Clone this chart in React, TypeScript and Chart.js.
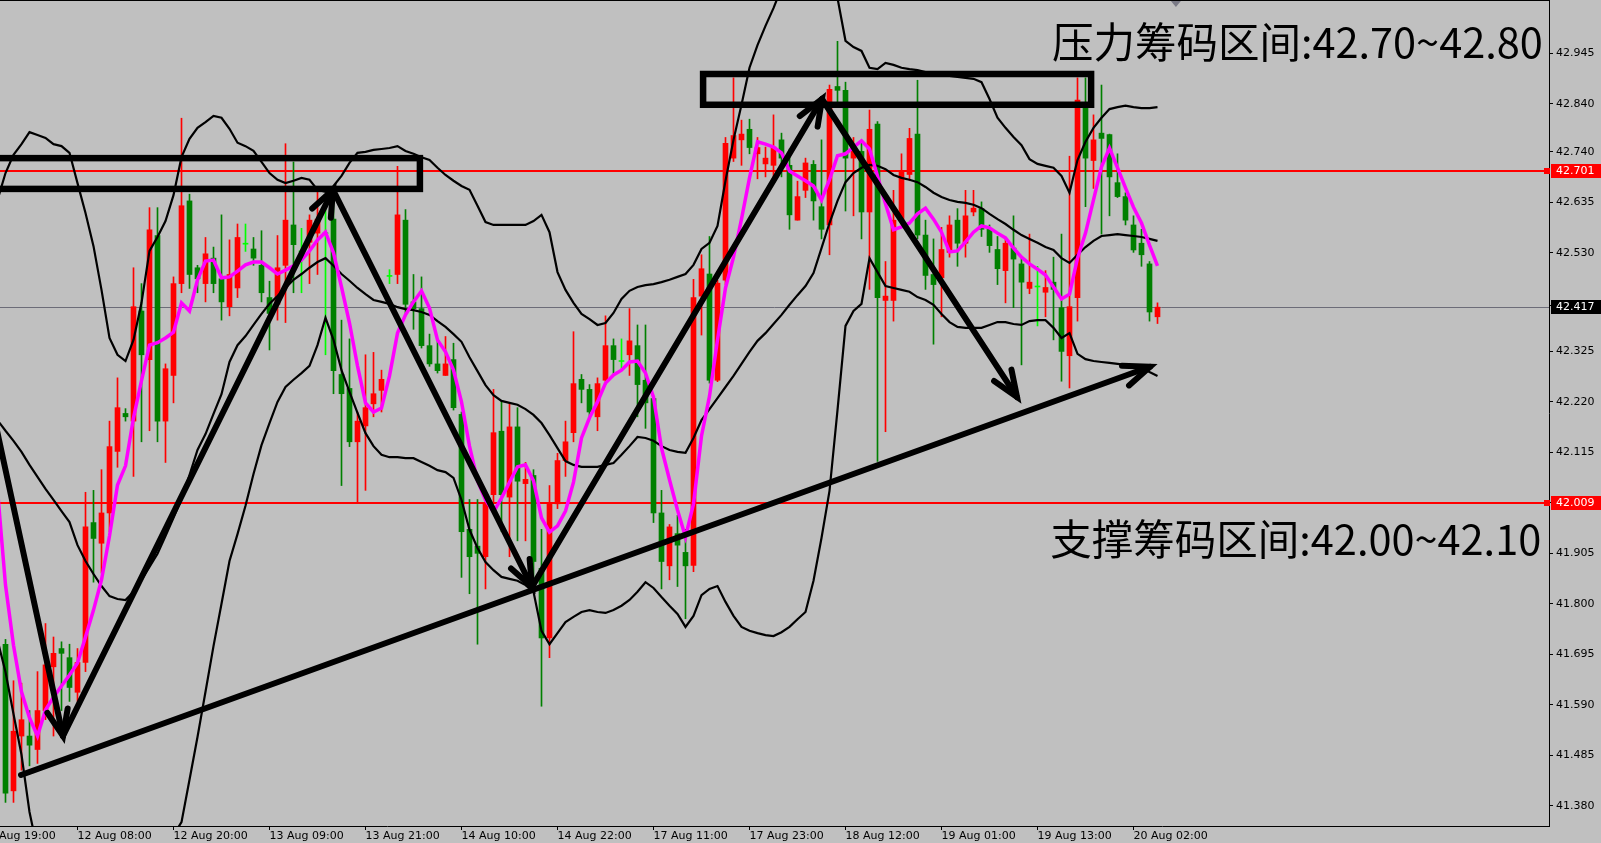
import React, { useEffect, useRef } from "react";
import { Chart, registerables } from "chart.js";

Chart.register(...registerables);

// ---------- candle data (hourly bars, bar 0 = 11 Aug 22:00) ----------
const FIRST_BAR = 0;
const OPEN = [
  41.716, 41.411, 41.525, 41.525, 41.497, 41.578, 41.669, 41.707, 41.688, 41.616,
  41.678, 41.969, 41.926, 41.989, 42.117, 42.196, 42.180, 42.409, 42.308, 42.566,
  42.180, 42.275, 42.466, 42.638, 42.499, 42.466, 42.519, 42.476, 42.418, 42.457,
  42.548, 42.538, 42.504, 42.437, 42.423, 42.504, 42.588, 42.532, 42.552, 42.571,
  42.570, 42.600, 42.277, 42.248, 42.137, 42.170, 42.216, 42.244, 42.481, 42.485,
  42.598, 42.428, 42.414, 42.337, 42.299, 42.275, 42.308, 42.194, 41.955, 41.920,
  41.898, 42.027, 42.159, 42.022, 42.168, 42.050, 42.067, 41.874, 41.729, 42.008,
  42.098, 42.156, 42.267, 42.246, 42.189, 42.265, 42.337, 42.304, 42.318, 42.337,
  42.265, 42.227, 41.989, 41.879, 41.946, 41.907, 41.880, 42.440, 42.486, 42.265,
  42.473, 42.727, 42.765, 42.787, 42.736, 42.715, 42.712, 42.765, 42.712, 42.598,
  42.660, 42.714, 42.626, 42.588, 42.876, 42.868, 42.727, 42.741, 42.615, 42.798,
  42.431, 42.431, 42.598, 42.693, 42.777, 42.567, 42.485, 42.478, 42.531, 42.598,
  42.550, 42.615, 42.622, 42.579, 42.537, 42.493, 42.540, 42.507, 42.456, 42.459,
  42.448, 42.469, 42.416, 42.316, 42.437, 42.841, 42.722, 42.779, 42.776, 42.676,
  42.647, 42.588, 42.550, 42.507, 42.397,
];
const HIGH = [
  41.726, 41.640, 41.635, 41.578, 41.659, 41.759, 41.731, 41.721, 41.716, 41.707,
  42.032, 42.036, 42.079, 42.180, 42.270, 42.206, 42.499, 42.466, 42.624, 42.624,
  42.299, 42.480, 42.810, 42.652, 42.504, 42.562, 42.542, 42.609, 42.557, 42.590,
  42.590, 42.562, 42.576, 42.471, 42.566, 42.757, 42.719, 42.581, 42.609, 42.657,
  42.628, 42.657, 42.390, 42.351, 42.199, 42.318, 42.323, 42.286, 42.495, 42.710,
  42.620, 42.485, 42.480, 42.361, 42.351, 42.356, 42.342, 42.199, 42.017, 42.017,
  42.032, 42.246, 42.223, 42.218, 42.208, 42.094, 42.079, 41.955, 42.046, 42.113,
  42.180, 42.366, 42.277, 42.256, 42.270, 42.399, 42.351, 42.351, 42.414, 42.380,
  42.380, 42.232, 42.036, 41.965, 41.984, 41.955, 42.475, 42.526, 42.564, 42.473,
  42.770, 42.894, 42.806, 42.808, 42.770, 42.750, 42.817, 42.779, 42.746, 42.679,
  42.727, 42.722, 42.765, 42.879, 42.970, 42.885, 42.770, 42.760, 42.827, 42.803,
  42.512, 42.660, 42.736, 42.789, 42.889, 42.598, 42.559, 42.583, 42.607, 42.622,
  42.660, 42.660, 42.636, 42.588, 42.564, 42.559, 42.607, 42.521, 42.569, 42.502,
  42.493, 42.521, 42.569, 42.731, 42.894, 42.894, 42.817, 42.879, 42.777, 42.736,
  42.655, 42.607, 42.579, 42.512, 42.426,
];
const LOW = [
  41.387, 41.387, 41.454, 41.463, 41.468, 41.559, 41.525, 41.578, 41.597, 41.597,
  41.659, 41.845, 41.864, 41.950, 42.084, 42.180, 42.065, 42.137, 42.160, 42.137,
  42.094, 42.218, 42.447, 42.456, 42.447, 42.428, 42.447, 42.390, 42.399, 42.437,
  42.533, 42.504, 42.428, 42.328, 42.390, 42.385, 42.447, 42.447, 42.466, 42.485,
  42.318, 42.237, 42.046, 42.127, 42.012, 42.036, 42.189, 42.199, 42.466, 42.466,
  42.399, 42.371, 42.332, 42.294, 42.280, 42.275, 42.203, 41.855, 41.821, 41.716,
  41.831, 42.008, 41.950, 41.898, 41.931, 41.931, 41.836, 41.587, 41.688, 41.998,
  42.065, 42.137, 42.218, 42.189, 42.160, 42.256, 42.275, 42.289, 42.275, 42.189,
  42.165, 41.969, 41.831, 41.850, 41.836, 41.769, 41.867, 42.359, 42.259, 42.262,
  42.464, 42.720, 42.712, 42.736, 42.684, 42.688, 42.679, 42.688, 42.579, 42.598,
  42.645, 42.598, 42.559, 42.526, 42.836, 42.617, 42.607, 42.559, 42.454, 42.096,
  42.158, 42.388, 42.590, 42.680, 42.559, 42.454, 42.340, 42.397, 42.521, 42.502,
  42.521, 42.607, 42.564, 42.531, 42.464, 42.426, 42.416, 42.297, 42.445, 42.378,
  42.397, 42.349, 42.263, 42.249, 42.388, 42.626, 42.664, 42.569, 42.607, 42.645,
  42.588, 42.531, 42.502, 42.388, 42.383,
];
const CLOSE = [
  41.406, 41.535, 41.559, 41.506, 41.578, 41.673, 41.697, 41.697, 41.626, 41.678,
  41.960, 41.936, 41.989, 42.127, 42.208, 42.189, 42.418, 42.318, 42.578, 42.180,
  42.289, 42.466, 42.628, 42.485, 42.476, 42.528, 42.466, 42.428, 42.485, 42.562,
  42.548, 42.519, 42.447, 42.404, 42.499, 42.598, 42.547, 42.532, 42.598, 42.600,
  42.570, 42.285, 42.237, 42.137, 42.180, 42.208, 42.237, 42.267, 42.481, 42.609,
  42.423, 42.414, 42.337, 42.299, 42.285, 42.299, 42.208, 41.950, 41.898, 41.905,
  42.008, 42.156, 42.027, 42.168, 42.055, 42.059, 41.888, 41.729, 42.008, 42.098,
  42.137, 42.258, 42.246, 42.199, 42.258, 42.337, 42.308, 42.304, 42.347, 42.256,
  42.218, 41.989, 41.888, 41.960, 41.922, 41.879, 42.437, 42.497, 42.265, 42.467,
  42.758, 42.774, 42.777, 42.749, 42.749, 42.727, 42.750, 42.727, 42.609, 42.647,
  42.717, 42.638, 42.579, 42.870, 42.868, 42.727, 42.746, 42.615, 42.787, 42.437,
  42.440, 42.598, 42.698, 42.768, 42.567, 42.483, 42.464, 42.537, 42.588, 42.550,
  42.607, 42.623, 42.579, 42.545, 42.497, 42.550, 42.517, 42.469, 42.469, 42.459,
  42.458, 42.454, 42.325, 42.418, 42.848, 42.727, 42.765, 42.768, 42.688, 42.647,
  42.598, 42.536, 42.526, 42.407, 42.417,
];

// ---------- indicator lines (start one bar earlier, bar -1) ----------
const LINE_FIRST_BAR = -1;
const BB_UPPER = [
  42.640,
  42.696, 42.734, 42.756, 42.781, 42.775, 42.769, 42.756, 42.752, 42.738, 42.675,
  42.613, 42.544, 42.453, 42.353, 42.318, 42.305, 42.349, 42.426, 42.534, 42.563,
  42.596, 42.650, 42.729, 42.767, 42.790, 42.802, 42.815, 42.811, 42.788, 42.759,
  42.752, 42.742, 42.719, 42.696, 42.682, 42.675, 42.680, 42.686, 42.682, 42.661,
  42.657, 42.669, 42.690, 42.717, 42.738, 42.740, 42.744, 42.746, 42.748, 42.752,
  42.742, 42.736, 42.729, 42.723, 42.707, 42.692, 42.680, 42.669, 42.661, 42.628,
  42.594, 42.588, 42.588, 42.588, 42.588, 42.588, 42.596, 42.609, 42.573, 42.490,
  42.453, 42.426, 42.403, 42.392, 42.380, 42.384, 42.405, 42.434, 42.451, 42.459,
  42.463, 42.465, 42.469, 42.474, 42.480, 42.486, 42.505, 42.538, 42.551, 42.586,
  42.680, 42.765, 42.838, 42.915, 42.962, 43.002, 43.039, 43.081, 43.118, 43.150,
  43.170, 43.170, 43.156, 43.123, 43.060, 42.971, 42.958, 42.950, 42.915, 42.912,
  42.925, 42.921, 42.915, 42.912, 42.910, 42.906, 42.904, 42.902, 42.898, 42.896,
  42.894, 42.892, 42.885, 42.850, 42.811, 42.790, 42.771, 42.754, 42.725, 42.715,
  42.711, 42.707, 42.690, 42.655, 42.723, 42.761, 42.790, 42.811, 42.829, 42.833,
  42.836, 42.833, 42.831, 42.831, 42.833,
];
const BB_MIDDLE = [
  42.182,
  42.160, 42.139, 42.116, 42.089, 42.064, 42.039, 42.016, 41.993, 41.970, 41.922,
  41.889, 41.862, 41.837, 41.816, 41.810, 41.808, 41.825, 41.850, 41.877, 41.904,
  41.941, 41.979, 42.018, 42.068, 42.120, 42.153, 42.195, 42.236, 42.303, 42.338,
  42.357, 42.380, 42.403, 42.424, 42.440, 42.457, 42.474, 42.486, 42.499, 42.511,
  42.519, 42.503, 42.486, 42.472, 42.457, 42.444, 42.432, 42.428, 42.424, 42.417,
  42.413, 42.411, 42.407, 42.401, 42.388, 42.376, 42.361, 42.345, 42.313, 42.284,
  42.255, 42.234, 42.222, 42.218, 42.214, 42.205, 42.193, 42.176, 42.151, 42.124,
  42.097, 42.089, 42.085, 42.085, 42.085, 42.089, 42.093, 42.110, 42.128, 42.147,
  42.145, 42.139, 42.128, 42.120, 42.116, 42.114, 42.145, 42.182, 42.205, 42.228,
  42.251, 42.274, 42.299, 42.324, 42.347, 42.363, 42.382, 42.401, 42.422, 42.442,
  42.461, 42.488, 42.540, 42.592, 42.638, 42.677, 42.696, 42.707, 42.713, 42.711,
  42.704, 42.692, 42.686, 42.682, 42.677, 42.667, 42.655, 42.646, 42.640, 42.636,
  42.634, 42.630, 42.623, 42.611, 42.600, 42.590, 42.578, 42.567, 42.559, 42.551,
  42.542, 42.536, 42.519, 42.509, 42.526, 42.542, 42.555, 42.565, 42.567, 42.569,
  42.567, 42.565, 42.563, 42.559, 42.555,
];
const BB_LOWER = [
  41.725,
  41.658, 41.571, 41.486, 41.367, 41.288, 41.226, 41.174, 41.132, 41.101, 41.080,
  41.063, 41.055, 41.055, 41.063, 41.080, 41.101, 41.126, 41.159, 41.194, 41.234,
  41.276, 41.319, 41.346, 41.434, 41.523, 41.617, 41.712, 41.800, 41.889, 41.945,
  42.004, 42.070, 42.130, 42.176, 42.220, 42.251, 42.266, 42.280, 42.295, 42.338,
  42.395, 42.349, 42.286, 42.241, 42.197, 42.155, 42.128, 42.110, 42.105, 42.105,
  42.103, 42.103, 42.095, 42.087, 42.078, 42.074, 42.062, 42.016, 41.954, 41.916,
  41.887, 41.870, 41.856, 41.852, 41.848, 41.839, 41.825, 41.744, 41.716, 41.739,
  41.762, 41.773, 41.783, 41.787, 41.783, 41.781, 41.787, 41.796, 41.808, 41.825,
  41.845, 41.833, 41.814, 41.796, 41.779, 41.752, 41.775, 41.818, 41.831, 41.837,
  41.804, 41.775, 41.752, 41.744, 41.739, 41.735, 41.733, 41.741, 41.752, 41.768,
  41.783, 41.848, 41.937, 42.035, 42.203, 42.378, 42.409, 42.424, 42.519, 42.490,
  42.461, 42.457, 42.453, 42.449, 42.438, 42.432, 42.422, 42.403, 42.386, 42.376,
  42.374, 42.374, 42.374, 42.380, 42.386, 42.386, 42.382, 42.380, 42.388, 42.390,
  42.390, 42.374, 42.353, 42.363, 42.320, 42.309, 42.305, 42.303, 42.301, 42.299,
  42.297, 42.295, 42.291, 42.282, 42.274,
];
const MA_LINE = [
  42.037,
  41.839, 41.714, 41.617, 41.563, 41.525, 41.579, 41.606, 41.629, 41.652, 41.677,
  41.731, 41.787, 41.850, 41.941, 42.047, 42.087, 42.187, 42.264, 42.338, 42.343,
  42.353, 42.365, 42.426, 42.409, 42.474, 42.513, 42.515, 42.478, 42.480, 42.492,
  42.505, 42.511, 42.511, 42.499, 42.486, 42.494, 42.503, 42.515, 42.534, 42.557,
  42.573, 42.530, 42.459, 42.384, 42.295, 42.218, 42.199, 42.207, 42.274, 42.363,
  42.401, 42.428, 42.451, 42.415, 42.349, 42.324, 42.286, 42.220, 42.128, 42.056,
  42.016, 41.991, 42.020, 42.053, 42.085, 42.089, 42.056, 41.979, 41.949, 41.962,
  41.993, 42.053, 42.145, 42.187, 42.220, 42.259, 42.276, 42.286, 42.303, 42.305,
  42.280, 42.230, 42.124, 42.058, 41.995, 41.939, 42.008, 42.149, 42.232, 42.349,
  42.457, 42.521, 42.600, 42.686, 42.761, 42.756, 42.750, 42.738, 42.700, 42.690,
  42.680, 42.669, 42.640, 42.682, 42.732, 42.736, 42.750, 42.763, 42.746, 42.690,
  42.632, 42.578, 42.584, 42.592, 42.611, 42.623, 42.600, 42.573, 42.532, 42.534,
  42.553, 42.573, 42.586, 42.582, 42.571, 42.561, 42.540, 42.521, 42.507, 42.496,
  42.484, 42.459, 42.434, 42.444, 42.519, 42.571, 42.640, 42.709, 42.748, 42.707,
  42.665, 42.625, 42.592, 42.546, 42.503,
];

// ---------- axes ----------
const TICK_BARS = [-3, 9, 21, 33, 45, 57, 69, 81, 93, 105, 117, 129, 141];
const TICK_LABELS = [
  "11 Aug 19:00", "12 Aug 08:00", "12 Aug 20:00", "13 Aug 09:00", "13 Aug 21:00",
  "14 Aug 10:00", "14 Aug 22:00", "17 Aug 11:00", "17 Aug 23:00", "18 Aug 12:00",
  "19 Aug 01:00", "19 Aug 13:00", "20 Aug 02:00",
];
const Y_TICKS = [
  42.945, 42.84, 42.74, 42.635, 42.53, 42.42, 42.325, 42.22, 42.115, 42.01,
  41.905, 41.8, 41.695, 41.59, 41.485, 41.38,
];
const X_MIN = -0.6875;
const X_MAX = 192.9375;
const Y_MIN = 41.3379;
const Y_MAX = 43.0559;

// ---------- annotations (bar index / price) ----------
const LEVELS = [42.701, 42.009];
const LAST_PRICE = 42.417;
const BOX_BARS = [
  [-3, 51.8],
  [87.2, 135.7],
];
const BOX_PRICES = [
  [42.727, 42.663],
  [42.902, 42.838],
];
const ARROW_FROM = [
  [-1.94, 42.228],
  [7.19, 41.525],
  [40.94, 42.661],
  [65.81, 41.835],
  [102.06, 42.85],
  [1.94, 41.444],
];
const ARROW_TO = [
  [7.19, 41.525],
  [40.94, 42.661],
  [65.81, 41.835],
  [102.06, 42.85],
  [126.44, 42.23],
  [143.06, 42.293],
];
const NOTE_TEXTS = ["压力筹码区间:42.70~42.80", "支撑筹码区间:42.00~42.10"];
const NOTE_ANCHORS = [
  [130.8, 42.969],
  [130.6, 41.934],
];
const SHIFT_MARKER_BAR = 146.3;

const RED = "#ff0000";
const GREEN = "#008000";
const LIME = "#00ff00";

const overlayPlugin = {
  id: "mtOverlay",
  beforeDatasetsDraw(chart: any) {
    const { ctx, chartArea: a, scales } = chart;
    const y = scales.y;
    ctx.save();
    ctx.beginPath();
    ctx.rect(a.left, a.top, a.right - a.left, a.bottom - a.top);
    ctx.clip();
    const py = Math.round(y.getPixelForValue(LAST_PRICE)) + 0.5;
    ctx.strokeStyle = "#6c6c78";
    ctx.lineWidth = 1;
    ctx.beginPath();
    ctx.moveTo(a.left, py);
    ctx.lineTo(a.right, py);
    ctx.stroke();
    ctx.strokeStyle = RED;
    ctx.lineWidth = 2;
    for (const lv of LEVELS) {
      const yy = Math.round(y.getPixelForValue(lv));
      ctx.beginPath();
      ctx.moveTo(a.left, yy);
      ctx.lineTo(a.right, yy);
      ctx.stroke();
    }
    ctx.restore();
  },
  afterDatasetsDraw(chart: any) {
    const { ctx, chartArea: a, scales } = chart;
    const x = scales.x;
    const y = scales.y;
    ctx.save();
    ctx.beginPath();
    ctx.rect(a.left, a.top, a.right - a.left, a.bottom - a.top);
    ctx.clip();
    ctx.strokeStyle = "#000";
    ctx.lineJoin = "miter";
    // boxes
    ctx.lineWidth = 6.5;
    BOX_BARS.forEach((bb, k) => {
      const x0 = x.getPixelForValue(bb[0]);
      const x1 = x.getPixelForValue(bb[1]);
      const y0 = y.getPixelForValue(BOX_PRICES[k][0]);
      const y1 = y.getPixelForValue(BOX_PRICES[k][1]);
      ctx.strokeRect(x0, y0, x1 - x0, y1 - y0);
    });
    // arrows
    ctx.lineWidth = 6;
    ctx.lineCap = "round";
    ARROW_FROM.forEach((f, k) => {
      const t = ARROW_TO[k];
      const x0 = x.getPixelForValue(f[0]);
      const y0 = y.getPixelForValue(f[1]);
      const x1 = x.getPixelForValue(t[0]);
      const y1 = y.getPixelForValue(t[1]);
      ctx.beginPath();
      ctx.moveTo(x0, y0);
      ctx.lineTo(x1, y1);
      ctx.stroke();
      const ang = Math.atan2(y1 - y0, x1 - x0);
      const len = 28;
      const spread = 0.38;
      ctx.beginPath();
      ctx.moveTo(x1 - len * Math.cos(ang - spread), y1 - len * Math.sin(ang - spread));
      ctx.lineTo(x1, y1);
      ctx.lineTo(x1 - len * Math.cos(ang + spread), y1 - len * Math.sin(ang + spread));
      ctx.stroke();
    });
    // texts
    ctx.fillStyle = "#000";
    ctx.font = '41.5px "Noto Sans CJK SC", sans-serif';
    ctx.textAlign = "left";
    ctx.textBaseline = "middle";
    NOTE_TEXTS.forEach((txt, k) => {
      ctx.fillText(txt, x.getPixelForValue(NOTE_ANCHORS[k][0]), y.getPixelForValue(NOTE_ANCHORS[k][1]));
    });
    ctx.restore();
  },
  afterDraw(chart: any) {
    const { ctx, chartArea: a, scales, width } = chart;
    const x = scales.x;
    const y = scales.y;
    ctx.save();
    // top frame line
    ctx.fillStyle = "#000";
    ctx.fillRect(0, 0, a.right, 1);
    // chart shift marker
    const sx = x.getPixelForValue(SHIFT_MARKER_BAR);
    ctx.fillStyle = "#7a7a86";
    ctx.beginPath();
    ctx.moveTo(sx - 5, 1);
    ctx.lineTo(sx + 5, 1);
    ctx.lineTo(sx, 7);
    ctx.closePath();
    ctx.fill();
    // price labels
    ctx.font = '11px "DejaVu Sans"';
    ctx.textAlign = "left";
    ctx.textBaseline = "middle";
    const label = (v: number, bg: string) => {
      const yy = Math.round(y.getPixelForValue(v));
      ctx.fillStyle = bg;
      ctx.fillRect(a.right + 2, yy - 7, width - a.right - 2, 14);
      ctx.fillStyle = "#fff";
      ctx.fillText(v.toFixed(3), a.right + 7, yy + 0.5);
    };
    for (const lv of LEVELS) {
      label(lv, RED);
      const yy = Math.round(y.getPixelForValue(lv));
      ctx.fillStyle = RED;
      ctx.fillRect(a.right - 5, yy - 3, 6, 6);
    }
    label(LAST_PRICE, "#000");
    ctx.restore();
  },
};

export default function App() {
  const ref = useRef<HTMLCanvasElement | null>(null);

  useEffect(() => {
    const canvas = ref.current;
    if (!canvas) return;
    const colors = OPEN.map((o, i) => (CLOSE[i] > o ? RED : CLOSE[i] < o ? GREEN : LIME));
    const wickData = OPEN.map((_, i) => ({ x: FIRST_BAR + i, y: [LOW[i], HIGH[i]] }));
    const bodyData = OPEN.map((o, i) => ({ x: FIRST_BAR + i, y: [o, CLOSE[i]] }));
    const toLine = (arr: number[]) => arr.map((v, k) => ({ x: LINE_FIRST_BAR + k, y: v }));
    const lineStyle = (color: string, w: number, order: number) => ({
      type: "line" as const,
      borderColor: color,
      borderWidth: w,
      pointRadius: 0,
      tension: 0,
      fill: false,
      clip: 0,
      order,
    });

    const chart = new Chart(canvas, {
      type: "line",
      data: {
        datasets: [
          {
            type: "bar",
            label: "wick",
            data: wickData as any,
            backgroundColor: colors,
            barThickness: 1,
            grouped: false,
            borderWidth: 0,
            order: 6,
          } as any,
          {
            type: "bar",
            label: "body",
            data: bodyData as any,
            backgroundColor: colors,
            barThickness: 5,
            grouped: false,
            borderWidth: 0,
            minBarLength: 1,
            order: 5,
          } as any,
          { label: "BB upper", data: toLine(BB_UPPER), ...lineStyle("#000", 2.2, 3) } as any,
          { label: "BB middle", data: toLine(BB_MIDDLE), ...lineStyle("#000", 2.2, 3) } as any,
          { label: "BB lower", data: toLine(BB_LOWER), ...lineStyle("#000", 2.2, 3) } as any,
          { label: "MA", data: toLine(MA_LINE), ...lineStyle("#ff00ff", 3.5, 2) } as any,
        ],
      },
      options: {
        responsive: false,
        animation: false,
        devicePixelRatio: 1,
        events: [],
        layout: { padding: 0 },
        plugins: {
          legend: { display: false },
          tooltip: { enabled: false },
          title: { display: false },
        },
        scales: {
          x: {
            type: "linear",
            position: "bottom",
            min: X_MIN,
            max: X_MAX,
            bounds: "data",
            offset: false,
            afterBuildTicks: (s: any) => {
              s.ticks = TICK_BARS.map((v) => ({ value: v }));
            },
            afterFit: (s: any) => {
              s.height = 17;
              s.paddingLeft = 0;
              s.paddingRight = 0;
            },
            ticks: {
              autoSkip: false,
              maxRotation: 0,
              minRotation: 0,
              align: "start",
              padding: 0,
              color: "#000",
              font: { family: "DejaVu Sans", size: 11 },
              callback: (v: any) => {
                const k = TICK_BARS.indexOf(Number(v));
                return k >= 0 ? TICK_LABELS[k] : "";
              },
            },
            grid: {
              drawOnChartArea: false,
              drawTicks: true,
              tickLength: 4,
              tickColor: "#000",
              offset: false,
            },
            border: { display: true, color: "#000", width: 1 },
          },
          y: {
            type: "linear",
            position: "right",
            min: Y_MIN,
            max: Y_MAX,
            bounds: "data",
            afterBuildTicks: (s: any) => {
              s.ticks = Y_TICKS.map((v) => ({ value: v }));
            },
            afterFit: (s: any) => {
              s.width = 52;
              s.paddingTop = 0;
              s.paddingBottom = 0;
            },
            ticks: {
              autoSkip: false,
              padding: 3,
              color: "#000",
              font: { family: "DejaVu Sans", size: 11 },
              callback: (v: any) => Number(v).toFixed(3),
            },
            grid: {
              drawOnChartArea: false,
              drawTicks: true,
              tickLength: 4,
              tickColor: "#000",
            },
            border: { display: true, color: "#000", width: 1 },
          },
        },
      } as any,
      plugins: [overlayPlugin],
    });
    return () => chart.destroy();
  }, []);

  return (
    <div
      style={{
        position: "absolute",
        left: 0,
        top: 0,
        width: 1601,
        height: 843,
        background: "#c0c0c0",
        overflow: "hidden",
      }}
    >
      <canvas ref={ref} width={1601} height={843} style={{ display: "block", width: 1601, height: 843 }} />
    </div>
  );
}
